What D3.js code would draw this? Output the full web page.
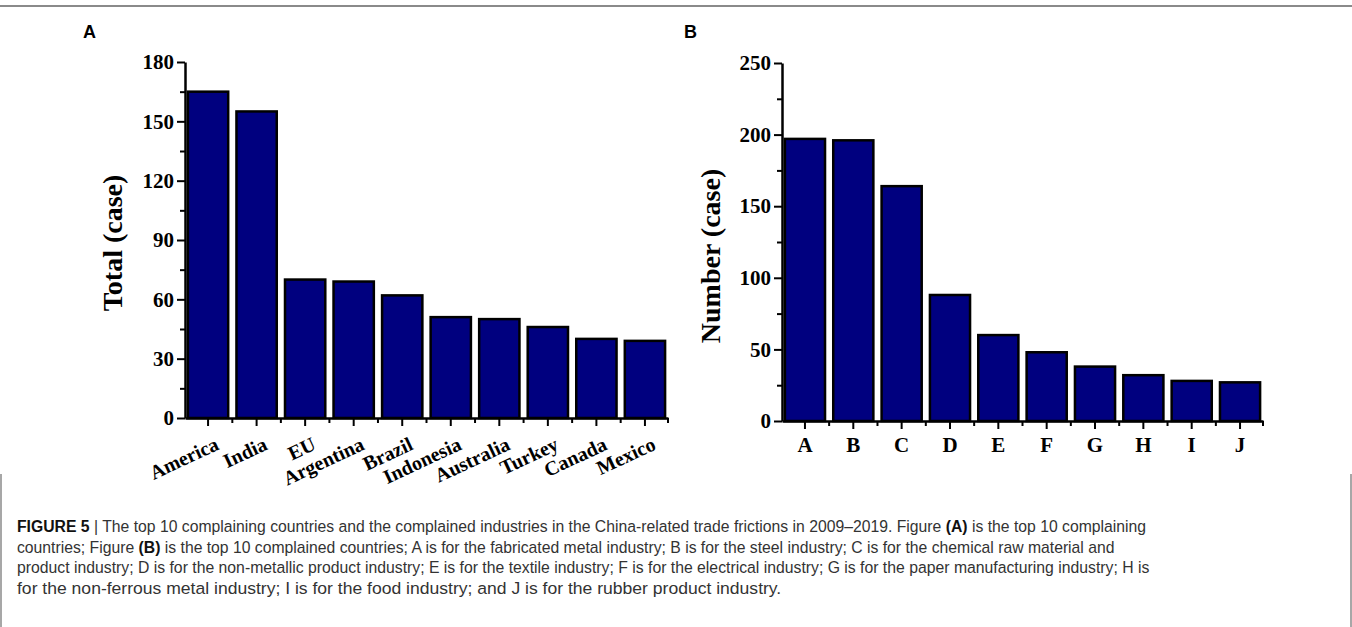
<!DOCTYPE html>
<html>
<head>
<meta charset="utf-8">
<script src="https://cdn.jsdelivr.net/npm/d3@7"></script>
<style>
  body { margin: 0; background: #fff; }
  svg { display: block; }
  .tick text { font-family: "Liberation Serif", "Times New Roman", serif; font-weight: bold; fill: #000; }
  .domain, .tick line { stroke: #000; }
</style>
</head>
<body>
<div id="chart"></div>
<script>
// panel A: top 10 complaining countries
let countries = ['America', 'India', 'EU', 'Argentina', 'Brazil', 'Indonesia', 'Australia', 'Turkey', 'Canada', 'Mexico'];
let countryTotals = [165, 155, 70, 69, 62, 51, 50, 46, 40, 39];
let yTicksA = [0, 30, 60, 90, 120, 150, 180];
let yMinorA = [15, 45, 75, 105, 135, 165];

// panel B: top 10 complained industries
let industries = ['A', 'B', 'C', 'D', 'E', 'F', 'G', 'H', 'I', 'J'];
let industryCounts = [197, 196, 164, 88, 60, 48, 38, 32, 28, 27];
let yTicksB = [0, 50, 100, 150, 200, 250];
let yMinorB = [25, 75, 125, 175, 225];

let captionLines = [
  [['FIGURE 5', true], [' | The top 10 complaining countries and the complained industries in the China-related trade frictions in 2009\u20132019. Figure ', false], ['(A)', true], [' is the top 10 complaining', false]],
  [['countries; Figure ', false], ['(B)', true], [' is the top 10 complained countries; A is for the fabricated metal industry; B is for the steel industry; C is for the chemical raw material and', false]],
  [['product industry; D is for the non-metallic product industry; E is for the textile industry; F is for the electrical industry; G is for the paper manufacturing industry; H is', false]],
  [['for the non-ferrous metal industry; I is for the food industry; and J is for the rubber product industry.', false]]
];
let captionWidths = [1130, 1098, 1133, 765];

let W = 1352, H = 627;

let svg = d3.select('#chart').append('svg')
  .attr('width', W)
  .attr('height', H);

// frame lines
svg.append('line')
  .attr('x1', 0).attr('x2', W).attr('y1', 6).attr('y2', 6)
  .attr('stroke', '#8a8a8a').attr('stroke-width', 2);
svg.append('line')
  .attr('x1', 1).attr('x2', 1).attr('y1', 474).attr('y2', H)
  .attr('stroke', '#8a8a8a').attr('stroke-width', 1.5);
svg.append('line')
  .attr('x1', W - 1).attr('x2', W - 1).attr('y1', 474).attr('y2', H)
  .attr('stroke', '#8a8a8a').attr('stroke-width', 1.5);

function createBars(opts) {
  let g = svg.append('g');

  let x = d3.scaleBand()
    .domain(opts.cats)
    .range([opts.x0, opts.x1])
    .paddingInner(0.17)
    .paddingOuter(0.06);

  let y = d3.scaleLinear()
    .domain([0, opts.max])
    .range([opts.yBottom, opts.yTop]);

  // bars
  g.selectAll('.bar')
    .data(opts.values)
    .enter()
    .append('rect')
    .attr('class', 'bar')
    .attr('x', (d, i) => x(opts.cats[i]))
    .attr('y', d => y(d))
    .attr('width', x.bandwidth())
    .attr('height', d => opts.yBottom - y(d))
    .attr('fill', '#00007f')
    .attr('stroke', '#000')
    .attr('stroke-width', 2.5);

  // minor y ticks
  g.append('g')
    .attr('transform', 'translate(' + opts.x0 + ',0)')
    .call(d3.axisLeft(y).tickValues(opts.minor).tickSize(5).tickFormat(''))
    .call(a => a.select('.domain').remove())
    .selectAll('line').attr('stroke-width', 2);

  // major y ticks
  let yAxis = g.append('g')
    .attr('transform', 'translate(' + opts.x0 + ',0)')
    .call(d3.axisLeft(y).tickValues(opts.ticks).tickSize(8).tickSizeOuter(0).tickPadding(3));
  yAxis.select('.domain').attr('stroke-width', 2.5);
  yAxis.selectAll('line').attr('stroke-width', 2);
  yAxis.selectAll('text').style('font-size', '21px');

  // minor x ticks at band boundaries
  let step = x.step();
  let bounds = opts.cats.slice(1).map(c => x(c) - (step - x.bandwidth()) / 2);
  bounds.push(opts.x1);
  g.selectAll('.xminor')
    .data(bounds)
    .enter()
    .append('line')
    .attr('x1', d => d).attr('x2', d => d)
    .attr('y1', opts.yBottom).attr('y2', opts.yBottom + 5)
    .attr('stroke', '#000').attr('stroke-width', 2);

  // x axis
  let xAxis = g.append('g')
    .attr('transform', 'translate(0,' + opts.yBottom + ')')
    .call(d3.axisBottom(x).tickSize(8).tickSizeOuter(0));
  xAxis.select('.domain').attr('stroke-width', 2.5);
  xAxis.selectAll('line').attr('stroke-width', 2);

  if (opts.rotate) {
    xAxis.selectAll('text')
      .style('font-size', '20px')
      .attr('text-anchor', 'end')
      .attr('dy', 0)
      .attr('y', 0)
      .attr('transform', 'translate(12,31) rotate(-25)');
  } else {
    xAxis.selectAll('text')
      .style('font-size', '21px')
      .attr('dy', 0)
      .attr('y', 31);
  }

  // y axis title
  svg.append('text')
    .attr('transform', 'translate(' + opts.titleX + ',' + opts.titleY + ') rotate(-90)')
    .attr('text-anchor', 'middle')
    .style('font-family', '"Liberation Serif", "Times New Roman", serif')
    .style('font-weight', 'bold')
    .style('font-size', '28px')
    .text(opts.title);

  // panel letter
  svg.append('text')
    .attr('x', opts.letterX)
    .attr('y', 38)
    .style('font-family', '"Liberation Sans", Arial, sans-serif')
    .style('font-weight', 'bold')
    .style('font-size', '18px')
    .text(opts.letter);
}

createBars({
  cats: countries, values: countryTotals, ticks: yTicksA, minor: yMinorA, max: 180,
  x0: 185, x1: 668, yTop: 62, yBottom: 418, rotate: true,
  title: 'Total (case)', titleX: 122, titleY: 243, letter: 'A', letterX: 83
});

createBars({
  cats: industries, values: industryCounts, ticks: yTicksB, minor: yMinorB, max: 250,
  x0: 782, x1: 1263, yTop: 63, yBottom: 421, rotate: false,
  title: 'Number (case)', titleX: 720, titleY: 256, letter: 'B', letterX: 684
});

// caption: condensed look via horizontal scale fitted to each line
let cap = svg.append('g')
  .style('font-family', '"Liberation Sans", Arial, sans-serif')
  .style('font-size', '17px')
  .attr('fill', '#333');

captionLines.forEach((line, i) => {
  let lg = cap.append('g');
  let t = lg.append('text').attr('x', 0).attr('y', 0);
  line.forEach(part => {
    t.append('tspan')
      .style('font-weight', part[1] ? 'bold' : 'normal')
      .attr('fill', part[1] ? '#111' : '#333')
      .text(part[0]);
  });
  let natural = t.node().getComputedTextLength();
  let sx = captionWidths[i] / natural;
  lg.attr('transform', 'translate(17,' + (532 + i * 20.7) + ') scale(' + sx + ',1)');
});
</script>
</body>
</html>
